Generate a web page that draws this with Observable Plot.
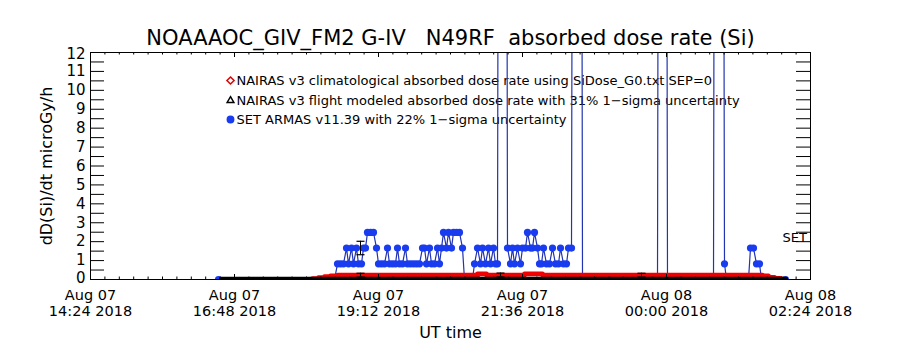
<!DOCTYPE html>
<html><head><meta charset="utf-8">
<script src="https://cdn.jsdelivr.net/npm/d3@7"></script>
<script src="https://cdn.jsdelivr.net/npm/@observablehq/plot@0.6"></script>
<style>body{margin:0;background:#fff} svg text{white-space:pre}</style>
</head><body><div id="chart"></div>
<script>
// ---- data ----
const armasTime = ["16:32","18:28","18:31","18:34","18:37","18:40","18:42","18:45","18:47","18:50","18:52","18:55","18:57","18:59","19:01","19:04","19:07","19:10","19:12","19:15","19:18","19:21","19:23","19:26","19:29","19:31","19:33","19:36","19:39","19:41","19:44","19:47","19:50","19:53","19:56","19:58","20:00","20:03","20:05","20:08","20:11","20:13","20:15","20:17","20:20","20:22","20:25","20:27","20:30","20:33","20:36","20:38","20:46","20:48","20:51","20:54","20:56","20:59","21:02","21:04","21:07","21:09","21:11","21:16","21:21","21:24","21:26","21:28","21:31","21:34","21:36","21:39","21:41","21:44","21:46","21:48","21:51","21:53","21:55","21:57","22:00","22:03","22:06","22:09","22:12","22:14","22:17","22:20","22:22","22:25","22:31","22:36","23:14","23:51","23:56","00:01","00:24","00:47","00:52","00:58","01:00","01:22","01:24","01:27","01:30","01:33","01:35","01:59"];
const armasDose = [0,0,0.83,0.83,0.83,1.66,0.83,1.66,0.83,1.66,0.83,0.83,1.66,1.66,2.49,2.49,2.49,1.66,0.83,0.83,0.83,1.66,0.83,0.83,0.83,1.66,0.83,0.83,1.66,0.83,0.83,0.83,0.83,0.83,1.66,1.66,0.83,1.66,0.83,0.83,1.66,0.83,1.66,2.49,1.66,2.49,1.66,2.49,2.49,2.49,1.66,0,0,0.83,1.66,0.83,1.66,0.83,1.66,0.83,1.66,0.83,0.83,150,1.66,0.83,1.66,0.83,1.66,0.83,1.66,1.66,2.49,1.66,1.66,2.49,1.66,0.83,0.83,1.66,0.83,0.83,1.66,0.83,0.83,1.66,0.83,0.83,1.66,1.66,150,0,0,0,150,0,0,0,150,0.83,0,0,1.66,1.66,0.83,0.83,0,0];

const climTime = ["18:02","18:06","18:12","18:18","18:24","18:31","19:34","20:49","20:51","20:58","21:00","21:36","21:38","21:54","21:56","22:54","00:34","01:31","01:36","01:42","01:48","01:54","01:57"];
const climDose = [0,0.05,0.1,0.16,0.2,0.23,0.23,0.23,0.3,0.3,0.23,0.23,0.3,0.3,0.23,0.23,0.23,0.23,0.19,0.12,0.06,0.02,0];

const flightTime = ["16:34","18:00","20:00","22:00","00:00","02:00"];
const flightDose = [0.06,0.06,0.06,0.06,0.06,0.06];

const nairasErrTime = ["18:54","21:14","23:35"];
const nairasErrLo = [0.13,0.14,0.13];
const nairasErrHi = [0.33,0.34,0.33];
const armasErrTime = ["18:54"];
const armasErrLo = [1.31];
const armasErrHi = [2.02];

const xTickTimes = ["14:24","16:48","19:12","21:36","00:00","02:24"];
const xTickDates = ["Aug 07","Aug 07","Aug 07","Aug 07","Aug 08","Aug 08"];
const xTickClock = ["14:24 2018","16:48 2018","19:12 2018","21:36 2018","00:00 2018","02:24 2018"];
const yTickValues = [0,1,2,3,4,5,6,7,8,9,10,11,12];

const legendLabels = [
  "NAIRAS v3 climatological absorbed dose rate using SiDose_G0.txt SEP=0",
  "NAIRAS v3 flight modeled absorbed dose rate with 31% 1\u2212sigma uncertainty",
  "SET ARMAS v11.39 with 22% 1\u2212sigma uncertainty"
];
const titleText = "NOAAAOC_GIV_FM2 G-IV   N49RF  absorbed dose rate (Si)";
const xLabelText = "UT time";
const yLabelText = "dD(Si)/dt microGy/h";
const seriesTag = "SET";

// ---- helpers ----
function toDate(hm){ const [h,m] = hm.split(":").map(Number); return new Date(Date.UTC(2018,7,h<12?8:7,h,m)); }
const armas = armasTime.map((t,i)=>({t:toDate(t), v:armasDose[i]}));
const clim = climTime.map((t,i)=>({t:toDate(t), v:climDose[i]}));
const flight = flightTime.map((t,i)=>({t:toDate(t), v:flightDose[i]}));
const errs = nairasErrTime.map((t,i)=>({t:toDate(t), lo:nairasErrLo[i], hi:nairasErrHi[i]}))
  .concat(armasErrTime.map((t,i)=>({t:toDate(t), lo:armasErrLo[i], hi:armasErrHi[i]})));
const caps = errs.flatMap(d=>[{t:d.t,v:d.lo},{t:d.t,v:d.hi}]);
const xTicks = xTickTimes.map((t,i)=>({t:toDate(t), date:xTickDates[i], clock:xTickClock[i]}));
const t0 = xTicks[0].t, t1 = xTicks[xTicks.length-1].t;
const minorTicks = d3.range(0, 51).map(k=>new Date(+t0 + k*14.4*60000));
const yMinor = d3.range(0.5, 12, 0.5);

const capSymbol = {draw(ctx){ ctx.moveTo(-4,0); ctx.lineTo(4,0); }};

const W = 900, H = 350, mL = 90, mR = 90, mT = 52, mB = 71;
const fw = W-mL-mR, fh = H-mT-mB;
const FONT = "DejaVu Sans";
const legendColors = ["#e00000","#000000","#1a3cf0"];
const legendSymbols = ["diamond2","triangle2","circle"];
const legendDy = [28,48,67];

const chart = Plot.plot({
  width: W, height: H,
  marginLeft: mL, marginRight: mR, marginTop: mT, marginBottom: mB,
  style: {fontFamily: FONT, background: "#fff", color: "#000"},
  x: {type: "utc", domain: [t0, t1], axis: null},
  y: {domain: [0, 12], axis: null},
  marks: [
    // legend
    ...legendLabels.map((lab,i)=>Plot.text([lab], {text: d=>d, frameAnchor: "top-left", dx: 146, dy: legendDy[i], textAnchor: "start", lineAnchor: "middle", fontSize: 13, fill: "#000"})),
    ...legendLabels.map((lab,i)=>Plot.dot([lab], {frameAnchor: "top-left", dx: 140, dy: legendDy[i], r: 3.2, symbol: legendSymbols[i], stroke: legendColors[i], fill: i===2 ? legendColors[i] : "none", strokeWidth: 1.5})),
    // ARMAS series
    Plot.line(armas, {x: "t", y: "v", stroke: "#2234b0", strokeWidth: 1.2, clip: true}),
    Plot.dot(armas, {x: "t", y: "v", r: 3.6, fill: "#1a3cf0", stroke: "none", clip: true}),
    // climatological (red)
    Plot.line(clim, {x: "t", y: "v", stroke: "#f00000", strokeWidth: 4.6, curve: "step-after", clip: true}),
    // flight modeled (black)
    Plot.line(flight, {x: "t", y: "v", stroke: "#000", strokeWidth: 3, clip: true}),
    // error bars
    Plot.ruleX(errs, {x: "t", y1: "lo", y2: "hi", stroke: "#000", strokeWidth: 1}),
    Plot.dot(caps, {x: "t", y: "v", symbol: capSymbol, stroke: "#000", strokeWidth: 1.2, fill: "none"}),
    // frame and ticks
    Plot.frame({stroke: "#000", strokeWidth: 1}),
    Plot.ruleY(yMinor, {y: d=>d, insetRight: fw-14, stroke: "#000"}),
    Plot.ruleY(yMinor, {y: d=>d, insetLeft: fw-14, stroke: "#000"}),
    Plot.ruleX(minorTicks, {x: d=>d, insetTop: fh-2.5, stroke: "#000"}),
    Plot.ruleX(minorTicks, {x: d=>d, insetBottom: fh-2.5, stroke: "#000"}),
    Plot.ruleX(xTicks, {x: "t", insetTop: fh-5, stroke: "#000"}),
    Plot.ruleX(xTicks, {x: "t", insetBottom: fh-5, stroke: "#000"}),
    // y tick labels
    Plot.text(yTickValues.filter(v=>v>0 && v<12), {y: d=>d, text: d=>String(d), frameAnchor: "left", dx: -5, textAnchor: "end", fontSize: 15, fill: "#000"}),
    Plot.text(yTickValues.filter(v=>v===12), {y: d=>d, text: d=>String(d), frameAnchor: "left", dx: -5, dy: 1.5, textAnchor: "end", fontSize: 15, fill: "#000"}),
    Plot.text(yTickValues.filter(v=>v===0), {y: d=>d, text: d=>String(d), frameAnchor: "left", dx: -5, dy: -1.5, textAnchor: "end", fontSize: 15, fill: "#000"}),
    // x tick labels (two rows)
    Plot.text(xTicks, {x: "t", text: "date", frameAnchor: "bottom", dy: 16, lineAnchor: "middle", fontSize: 14.5, fill: "#000"}),
    Plot.text(xTicks, {x: "t", text: "clock", frameAnchor: "bottom", dy: 31.5, lineAnchor: "middle", fontSize: 14.5, fill: "#000"}),
    // axis titles
    Plot.text([xLabelText], {text: d=>d, frameAnchor: "bottom", dy: 53, lineAnchor: "middle", fontSize: 16, fill: "#000"}),
    Plot.text([yLabelText], {text: d=>d, frameAnchor: "left", dx: -44, rotate: -90, textAnchor: "middle", lineAnchor: "middle", fontSize: 16, fill: "#000"}),
    // title
    Plot.text([titleText], {text: d=>d, frameAnchor: "top", dy: -14, lineAnchor: "middle", fontSize: 21, fill: "#000"}),
    // series tag
    Plot.text([seriesTag], {text: d=>d, frameAnchor: "bottom-right", dx: -28, dy: -42, textAnchor: "start", lineAnchor: "middle", fontSize: 13, fill: "#000"})
  ]
});
document.getElementById("chart").appendChild(chart);
</script>
</body></html>
